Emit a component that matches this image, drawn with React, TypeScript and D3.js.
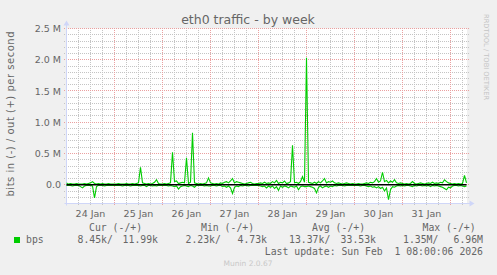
import React from "react";
import * as d3 from "d3";

// ---- data (Mbit/s), hourly samples from 24 Jan 00:00 to 1 Feb 08:00 ----
const outMbps: number[] = [
  0.03,0.01,0.02,0.01,0.01,0.02,0.01,0.01,0.01,0.02,0.01,0.02,0.03,0.05,0.02,0.01,0.02,0.01,0.02,0.01,0.01,0.02,0.01,0.01,
  0.01,0.01,0.02,0.01,0.01,0.01,0.02,0.01,0.01,0.02,0.01,0.02,0.03,0.28,0.03,0.02,0.01,0.02,0.01,0.02,0.04,0.08,0.02,0.01,
  0.01,0.02,0.01,0.02,0.03,0.52,0.05,0.06,0.02,0.03,0.04,0.03,0.43,0.02,0.04,0.83,0.03,0.02,0.01,0.02,0.01,0.02,0.03,0.11,
  0.03,0.02,0.01,0.02,0.01,0.03,0.02,0.04,0.05,0.03,0.06,0.10,0.03,0.05,0.04,0.03,0.02,0.01,0.02,0.03,0.04,0.02,0.01,0.02,
  0.02,0.03,0.02,0.04,0.02,0.03,0.02,0.05,0.03,0.07,0.02,0.04,0.03,0.06,0.02,0.03,0.05,0.63,0.03,0.04,0.02,0.05,0.13,0.04,
  2.03,0.04,0.03,0.02,0.04,0.02,0.05,0.03,0.06,0.10,0.03,0.05,0.04,0.06,0.03,0.02,0.03,0.02,0.01,0.02,0.03,0.02,0.01,0.02,
  0.01,0.01,0.02,0.01,0.01,0.02,0.03,0.02,0.04,0.03,0.05,0.10,0.04,0.06,0.20,0.05,0.07,0.03,0.06,0.04,0.08,0.03,0.02,0.03,
  0.02,0.01,0.02,0.01,0.02,0.05,0.02,0.01,0.02,0.03,0.02,0.01,0.02,0.03,0.02,0.04,0.02,0.03,0.02,0.04,0.03,0.08,0.05,0.03,
  0.02,0.01,0.02,0.01,0.02,0.01,0.02,0.15,0.03,
];
const inMbps: number[] = [
  0.01,0.01,0.01,0.02,0.01,0.01,0.01,0.03,0.05,0.02,0.01,0.01,0.01,0.02,0.21,0.03,0.01,0.01,0.01,0.02,0.01,0.01,0.01,0.01,
  0.01,0.01,0.01,0.01,0.02,0.01,0.01,0.01,0.02,0.01,0.01,0.01,0.01,0.02,0.01,0.01,0.03,0.01,0.01,0.02,0.01,0.02,0.01,0.01,
  0.01,0.01,0.01,0.02,0.01,0.02,0.03,0.02,0.07,0.03,0.02,0.01,0.02,0.03,0.01,0.02,0.04,0.01,0.01,0.01,0.01,0.02,0.01,0.02,
  0.02,0.01,0.01,0.02,0.01,0.01,0.03,0.02,0.04,0.02,0.05,0.14,0.04,0.02,0.03,0.01,0.02,0.01,0.01,0.02,0.01,0.01,0.01,0.01,
  0.01,0.02,0.03,0.02,0.05,0.02,0.04,0.02,0.06,0.03,0.09,0.02,0.04,0.02,0.03,0.05,0.02,0.03,0.04,0.02,0.08,0.03,0.02,0.03,
  0.03,0.02,0.03,0.04,0.06,0.13,0.04,0.02,0.05,0.03,0.02,0.04,0.02,0.03,0.01,0.02,0.01,0.01,0.01,0.02,0.01,0.01,0.01,0.01,
  0.01,0.01,0.01,0.02,0.01,0.01,0.02,0.03,0.02,0.04,0.03,0.05,0.03,0.06,0.04,0.10,0.05,0.24,0.08,0.03,0.04,0.02,0.01,0.02,
  0.01,0.02,0.01,0.01,0.02,0.03,0.01,0.02,0.01,0.01,0.02,0.01,0.02,0.01,0.03,0.01,0.02,0.01,0.02,0.03,0.04,0.06,0.08,0.04,
  0.05,0.02,0.01,0.01,0.02,0.01,0.02,0.03,0.02,
];
const yTickValues: number[] = [0, 0.5, 1.0, 1.5, 2.0, 2.5];
const yTickLabels: string[] = ["0.0", "0.5 M", "1.0 M", "1.5 M", "2.0 M", "2.5 M"];
const legendHeaders: string[] = ["Cur (-/+)", "Min (-/+)", "Avg (-/+)", "Max (-/+)"];
const legendIn: string[] = ["8.45k/", "2.23k/", "13.37k/", "1.35M/"];
const legendOut: string[] = ["11.99k", "4.73k", "33.53k", "6.96M"];
const seriesName = "bps";
const title = "eth0 traffic - by week";
const yLabel = "bits in (-) / out (+) per second";
const lastUpdate = "Last update: Sun Feb  1 08:00:06 2026";

const START = new Date(2026, 0, 24, 0, 0, 0);
const END = new Date(2026, 1, 1, 8, 0, 0);
const HOUR = 3600 * 1000;

const snap = (v: number) => Math.floor(v) + 0.5;

export default function App() {
  const W = 497, H = 275;
  const x = d3.scaleTime().domain([START, END]).range([66.5, 466.5]);
  const y = d3.scaleLinear().domain([-0.3, 2.5]).range([203.5, 28.5]);
  const x0 = 66.5, x1 = 466.5, yTop = 28.5, yBot = 203.5;

  const times = outMbps.map((_, i) => new Date(START.getTime() + i * HOUR));
  const line = d3.line<[Date, number]>().x(d => x(d[0])).y(d => y(d[1]));
  const outPath = line(times.map((t, i) => [t, outMbps[i]] as [Date, number])) || "";
  const inPath = line(times.map((t, i) => [t, -inMbps[i]] as [Date, number])) || "";

  const minorY = d3.range(-2, 26).map(v => v / 10).filter(v => Math.abs(v * 2 - Math.round(v * 2)) > 1e-6);
  const sixHours = d3.timeHour.every(6)!.range(new Date(START.getTime() + 1), END);
  const minorX = sixHours.filter(t => t.getHours() !== 0);
  const majorX = d3.timeDay.range(new Date(START.getTime() + 1), END);
  const noons = d3.timeDay.range(START, END).map(d => d3.timeHour.offset(d, 12)).filter(d => d < END);
  const fmt = d3.timeFormat("%d %b");

  const font = "DejaVu Sans, Verdana, sans-serif";
  const mono = "DejaVu Sans Mono, monospace";
  const txt = "#666666";
  const headerX = [89, 201, 312, 422.5];
  const inX = [77.5, 185.5, 289, 403];
  const outEndX = [158, 267, 376, 483];
  const minorC = "#c4c4c4";
  const majorC = "#eaa0a0";

  return (
    <svg width={W} height={H} style={{ position: "fixed", left: 0, top: 0 }} xmlns="http://www.w3.org/2000/svg">
      <rect x={0} y={0} width={W} height={H} fill="#F0F0F0" />
      <rect x={x0} y={yTop} width={x1 - x0 + 0.5} height={yBot - yTop} fill="#FFFFFF" />
      {/* minor grid */}
      {minorY.map((v, i) => (
        <line key={"my" + i} x1={x0 - 2.5} x2={x1 + 2.5} y1={snap(y(v))} y2={snap(y(v))} stroke={minorC} strokeDasharray="1 1" />
      ))}
      {minorX.map((t, i) => (
        <line key={"mx" + i} x1={snap(x(t))} x2={snap(x(t))} y1={yTop - 0.5} y2={yBot + 2.5} stroke={minorC} strokeDasharray="1 1" />
      ))}
      {/* major grid */}
      {yTickValues.map((v, i) => (
        <line key={"My" + i} x1={x0 - 2.5} x2={x1 + 2.5} y1={snap(y(v))} y2={snap(y(v))} stroke={majorC} strokeDasharray="1 1" />
      ))}
      {majorX.map((t, i) => (
        <line key={"Mx" + i} x1={snap(x(t))} x2={snap(x(t))} y1={yTop - 0.5} y2={yBot + 2.5} stroke={majorC} strokeDasharray="1 1" />
      ))}
      {/* axes */}
      <line x1={x0} x2={x0} y1={yBot + 2} y2={yTop - 5} stroke="#CFD6F8" />
      <line x1={x0 - 2} x2={x1 + 4} y1={yBot} y2={yBot} stroke="#CFD6F8" />
      <path d={`M${x0 - 3},${yTop - 3} L${x0},${yTop - 8} L${x0 + 3},${yTop - 3} Z`} fill="#CFD6F8" />
      <path d={`M${x1 + 3},${yBot - 3} L${x1 + 8},${yBot} L${x1 + 3},${yBot + 3} Z`} fill="#CFD6F8" />
      {/* series */}
      <path d={inPath} fill="none" stroke="#00CC00" strokeWidth={1.1} />
      <path d={outPath} fill="none" stroke="#00CC00" strokeWidth={1.1} />
      <line x1={x0} x2={x1} y1={y(0)} y2={y(0)} stroke="#000000" strokeWidth={1.6} />
      {/* y tick labels */}
      {yTickValues.map((v, i) => (
        <text key={"yl" + i} x={61} y={y(v) + 3.5} textAnchor="end" fontFamily={font} fontSize={9.5} fill={txt}>
          {yTickLabels[i]}
        </text>
      ))}
      {/* x tick labels */}
      {noons.map((t, i) => (
        <text key={"xl" + i} x={x(t)} y={216.5} textAnchor="middle" fontFamily={font} fontSize={9.5} fill={txt}>
          {fmt(t)}
        </text>
      ))}
      {/* title */}
      <text x={248} y={24} textAnchor="middle" fontFamily={font} fontSize={12.5} fill={txt}>{title}</text>
      {/* y label */}
      <text transform={`translate(13.5,114) rotate(-90)`} textAnchor="middle" fontFamily={font} fontSize={10}
        fill={txt} textLength={165} lengthAdjust="spacing">{yLabel}</text>
      {/* rrdtool credit */}
      <text transform={`translate(484,14) rotate(90)`} fontFamily={font} fontSize={6.7} fill="#c4c4c4">RRDTOOL / TOBI OETIKER</text>
      {/* legend */}
      {legendHeaders.map((h, i) => (
        <text key={"lh" + i} x={headerX[i]} y={230.5} fontFamily={mono} fontSize={9.8} fill={txt}>{h}</text>
      ))}
      <rect x={14} y={237} width={6} height={6} fill="#00CC00" />
      <text x={26} y={243} fontFamily={mono} fontSize={9.8} fill={txt}>{seriesName}</text>
      {legendIn.map((s, i) => (
        <text key={"li" + i} x={inX[i]} y={243} fontFamily={mono} fontSize={9.8} fill={txt}>{s}</text>
      ))}
      {legendOut.map((s, i) => (
        <text key={"lo" + i} x={outEndX[i]} y={243} textAnchor="end" fontFamily={mono} fontSize={9.8} fill={txt}>{s}</text>
      ))}
      <text x={483} y={255} textAnchor="end" fontFamily={mono} fontSize={9.8} fill={txt} style={{ whiteSpace: "pre" }}>{lastUpdate}</text>
      <text x={248} y={266} textAnchor="middle" fontFamily={font} fontSize={7.5} fill="#c8c8c8">Munin 2.0.67</text>
    </svg>
  );
}
